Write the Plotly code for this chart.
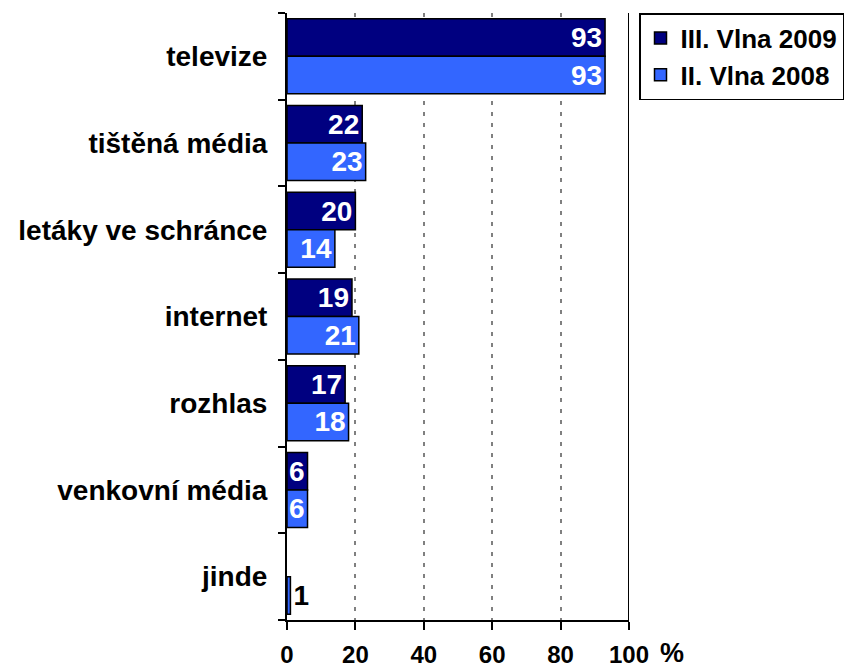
import plotly.graph_objects as go

categories = ["televize", "tištěná média", "letáky ve schránce", "internet",
              "rozhlas", "venkovní média", "jinde"]
wave_2009 = [93, 22, 20, 19, 17, 6, None]
wave_2008 = [93, 23, 14, 21, 18, 6, 1]
series_names = ["III. Vlna 2009", "II. Vlna 2008"]
x_ticks = [0, 20, 40, 60, 80, 100]

FONT = "Liberation Sans, Arial, sans-serif"

def labels(vals):
    return ["" if v is None else str(v) for v in vals]

fig = go.Figure()
fig.add_trace(go.Bar(
    y=categories, x=wave_2009, orientation="h", name=series_names[0],
    marker=dict(color="#000080", line=dict(color="black", width=1.5)),
    text=labels(wave_2009), textposition="inside", insidetextanchor="end",
    insidetextfont=dict(color="white", size=28, family=FONT),
    constraintext="none", cliponaxis=False, legendgroup="a",
))
fig.add_trace(go.Bar(
    y=categories, x=wave_2008, orientation="h", name=series_names[1],
    marker=dict(color="#3366FF", line=dict(color="black", width=1.5)),
    text=labels(wave_2008),
    textposition=["inside"] * 6 + ["outside"], insidetextanchor="end",
    insidetextfont=dict(color="white", size=28, family=FONT),
    outsidetextfont=dict(color="black", size=28, family=FONT),
    constraintext="none", cliponaxis=False, legendgroup="b",
))

fig.add_shape(type="line", xref="x", yref="paper", x0=100, x1=100, y0=0, y1=1,
              line=dict(color="black", width=2))

fig.add_annotation(text="<b>%</b>", xref="paper", yref="paper",
                   x=(671.5 - 287) / 342, y=(620 - 653) / 607,
                   showarrow=False, font=dict(size=27, color="black", family=FONT),
                   xanchor="center", yanchor="middle")

fig.update_layout(
    width=845, height=669,
    margin=dict(l=287, r=216, t=13, b=49, autoexpand=False),
    paper_bgcolor="white", plot_bgcolor="white",
    barmode="group", bargap=0.135, bargroupgap=0,
    font=dict(family=FONT, size=24, color="black"),
    showlegend=True,
    legend=dict(x=(639 - 287) / 342, y=1.0, xanchor="left", yanchor="top",
                bordercolor="black", borderwidth=1.5,
                font=dict(size=26, family=FONT, color="black"),
                traceorder="normal", tracegroupgap=8, itemwidth=30),
    xaxis=dict(range=[0, 100], tickvals=x_ticks,
               ticktext=["<b>%d</b>" % v for v in x_ticks],
               showgrid=True, gridcolor="#808080", gridwidth=2, griddash="4px,7px",
               showline=True, linecolor="black", linewidth=2,
               ticks="outside", ticklen=8, tickwidth=2, tickcolor="black",
               ticklabelstandoff=4,
               zeroline=False, automargin=False, tickfont=dict(size=24, family=FONT)),
    yaxis=dict(categoryorder="array", categoryarray=categories, autorange="reversed",
               tickvals=categories, ticktext=["<b>%s</b>" % c for c in categories],
               showline=True, linecolor="black", linewidth=2,
               ticks="outside", ticklen=7, tickwidth=2, tickcolor="black",
               tickson="boundaries", showgrid=False, automargin=False,
               ticklabelstandoff=12, tickfont=dict(size=28, family=FONT)),
)
fig.data[0].update(texttemplate="<b>%{text}</b>")
fig.data[1].update(texttemplate="<b>%{text}</b>")
for t in fig.data:
    t.name = "<b>" + t.name + "</b>"

fig.write_html("out.html", config={"displayModeBar": False},
               post_script="document.body.style.margin='0';document.body.style.overflow='hidden';")
